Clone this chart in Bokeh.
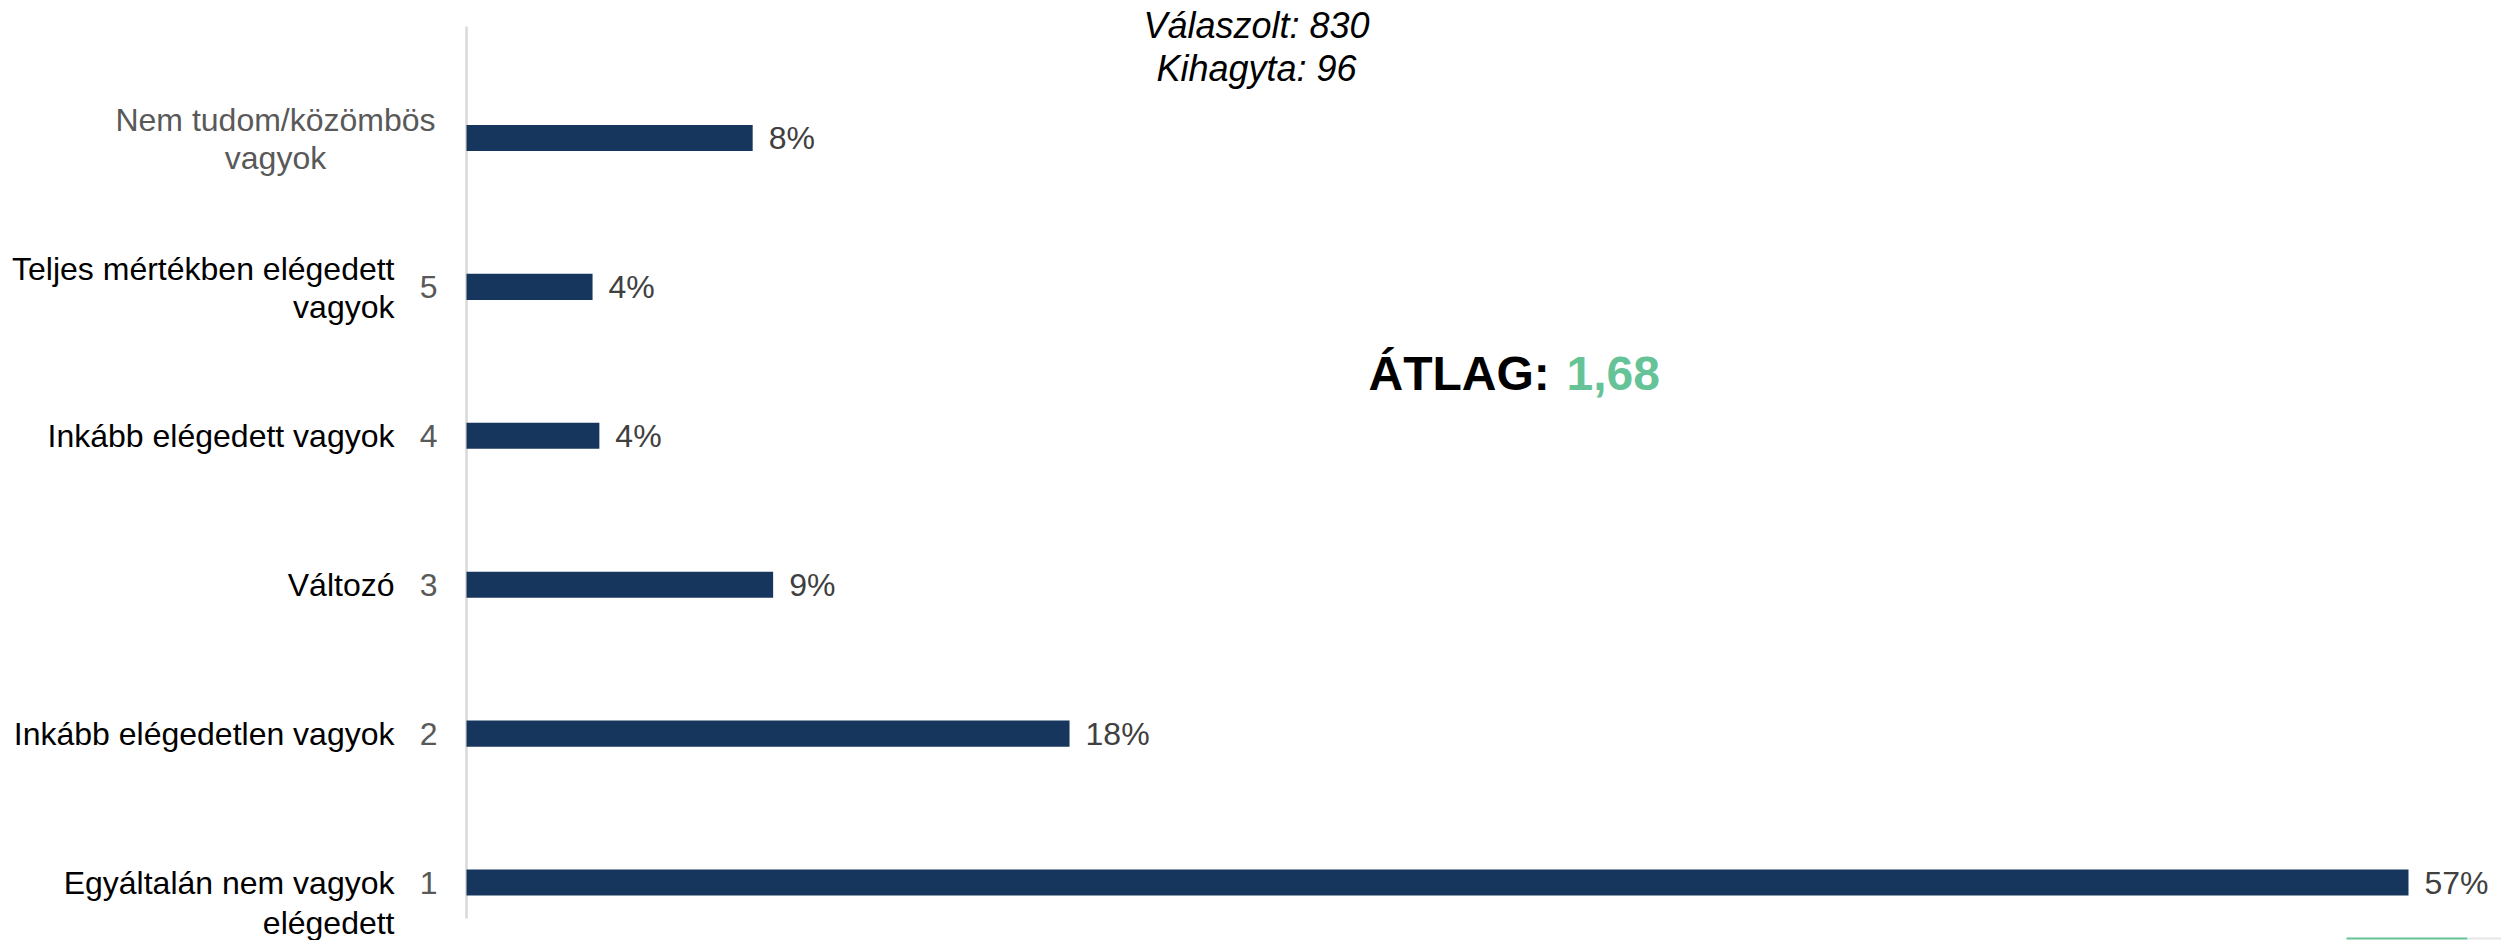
from bokeh.plotting import figure
from bokeh.models import ColumnDataSource, LabelSet, Label, Range1d
from bokeh.core.properties import value
from bokeh.embed import file_html
from bokeh.resources import INLINE

# ---- data (bottom to top) ----
categories = ["Egyáltalán nem vagyok\nelégedett",
              "Inkább elégedetlen vagyok",
              "Változó",
              "Inkább elégedett vagyok",
              "Teljes mértékben elégedett\nvagyok",
              "Nem tudom/közömbös\nvagyok"]
codes = ["1", "2", "3", "4", "5", ""]
values = [57.0, 17.7, 9.0, 3.9, 3.7, 8.4]
title_lines = ["Válaszolt: 830", "Kihagyta: 96"]
average_label = "ÁTLAG:"
average_value = "1,68"

# ---- layout constants (page pixels) ----
W, H = 2501, 940
PX_PER_X = 1942 / 57.0      # px per percent
PX_PER_Y = 148.9            # px per category
AXIS_PAGE_X = 466
BOTTOM_BAR_PAGE_Y = 882
FONT = "Liberation Sans"
BAR = "#17365d"
GREEN = "#65c397"

X_START = -AXIS_PAGE_X / PX_PER_X
X_END = (W - AXIS_PAGE_X) / PX_PER_X
Y_START = -(H - BOTTOM_BAR_PAGE_Y) / PX_PER_Y
Y_END = BOTTOM_BAR_PAGE_Y / PX_PER_Y


def dx(page_x):
    return (page_x - AXIS_PAGE_X) / PX_PER_X


def dy(page_y):
    return (BOTTOM_BAR_PAGE_Y - page_y) / PX_PER_Y


ys = list(range(len(categories)))
line1 = [c.split("\n")[0] for c in categories]
line2 = [c.split("\n")[1] if "\n" in c else "" for c in categories]
pct = [f"{round(v)}%" for v in values]

# per-row label styling
lab_dx = [-72, -72, -72, -72, -72, -191]
lab_align = ["right", "right", "right", "right", "right", "center"]
l1_off = [0, 0, 0, 0, 18, 18]
l2_off = [-40, 0, 0, 0, -20, -20]
lab_color = ["#000000"] * 5 + ["#595959"]

src = ColumnDataSource(dict(y=ys, v=values, pct=pct, code=codes,
                            l1=line1, l2=line2, zero=[0] * len(ys),
                            ldx=lab_dx, lal=lab_align, o1=l1_off, o2=l2_off,
                            lc=lab_color))

p = figure(width=W, height=H, output_backend="svg", toolbar_location=None,
           x_range=Range1d(X_START, X_END), y_range=Range1d(Y_START, Y_END),
           min_border_left=0, min_border_right=0,
           min_border_top=0, min_border_bottom=0)
p.xaxis.visible = False
p.yaxis.visible = False
p.grid.visible = False
p.outline_line_color = None
p.background_fill_color = "white"
p.border_fill_color = "white"

# vertical category axis line
p.segment(x0=0, y0=dy(26), x1=0, y1=dy(918), line_color="#d9d9d9",
          line_width=2.5)

p.hbar(y="y", right="v", left=0, height=0.175, source=src,
       fill_color=BAR, line_color=None)

# value labels
p.add_layout(LabelSet(x="v", y="y", text="pct", source=src, x_offset=16,
                      text_align="left", text_baseline="middle",
                      text_font=value(FONT), text_font_size="32px",
                      text_color="#404040"))
# codes
p.add_layout(LabelSet(x="zero", y="y", text="code", source=src, x_offset=-29,
                      text_align="right", text_baseline="middle",
                      text_font=value(FONT), text_font_size="32px",
                      text_color="#595959"))
# category labels line 1 / line 2
p.add_layout(LabelSet(x="zero", y="y", text="l1", source=src, x_offset="ldx",
                      y_offset="o1", text_align="lal", text_baseline="middle",
                      text_font=value(FONT), text_font_size="32px",
                      text_color="lc"))
p.add_layout(LabelSet(x="zero", y="y", text="l2", source=src, x_offset="ldx",
                      y_offset="o2", text_align="lal", text_baseline="middle",
                      text_font=value(FONT), text_font_size="32px",
                      text_color="lc"))

# header
for i, t in enumerate(title_lines):
    p.add_layout(Label(x=dx(1256), y=dy(25 + 43 * i), text=t,
                       text_align="center", text_baseline="middle",
                       text_font=FONT, text_font_size="36px",
                       text_font_style="italic", text_color="#000000"))

p.add_layout(Label(x=dx(1368), y=dy(373), text=average_label,
                   text_align="left", text_baseline="middle",
                   text_font=FONT, text_font_size="48px",
                   text_font_style="bold", text_color="#000000"))
p.add_layout(Label(x=dx(1566), y=dy(373), text=average_value,
                   text_align="left", text_baseline="middle",
                   text_font=FONT, text_font_size="48px",
                   text_font_style="bold", text_color=GREEN))

# small slide-footer strip at bottom right
p.segment(x0=dx(2346), y0=dy(938), x1=dx(2467), y1=dy(938),
          line_color=GREEN, line_width=2)
p.segment(x0=dx(2467), y0=dy(938), x1=dx(2501), y1=dy(938),
          line_color="#e6e6e6", line_width=2)

open("out.html", "w").write(file_html(p, INLINE))
